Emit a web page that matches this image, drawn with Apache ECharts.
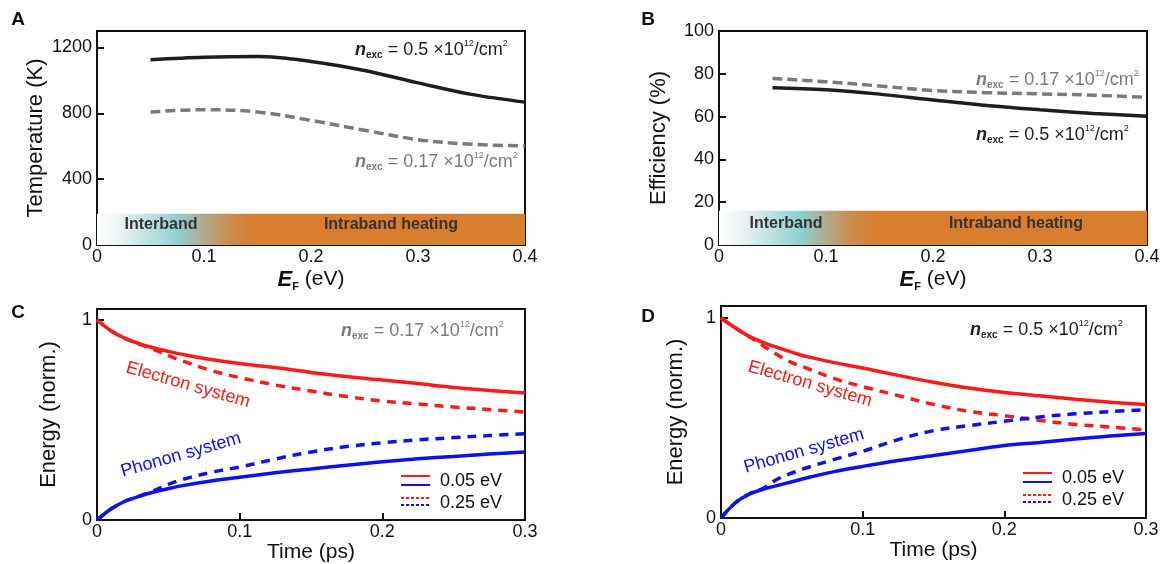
<!DOCTYPE html>
<html><head><meta charset="utf-8">
<script src="https://cdn.jsdelivr.net/npm/echarts@6/dist/echarts.min.js"></script>
<style>html,body{margin:0;padding:0;background:#fff}#c{width:1160px;height:564px}</style>
</head><body><div id="c"></div>
<script>
// ---------- data ----------
const EF = [0.05, 0.1, 0.15, 0.2, 0.25, 0.3, 0.35, 0.4];
const tempHigh = [1125, 1140, 1145, 1115, 1060, 985, 915, 868];   // n_exc = 0.5e12
const tempLow  = [808, 822, 808, 757, 697, 640, 612, 602];         // n_exc = 0.17e12
const effHigh  = [73.5, 72.5, 70.5, 67.8, 65.2, 63.2, 61.5, 60.2];
const effLow   = [77.8, 76.3, 74.3, 72.2, 71.2, 70.6, 70.0, 69.0];
const bandTempTop = 190;
const bandEffTop = 16;
const bandEnd = 0.4;

const TIME = [0, 0.01, 0.02, 0.03, 0.04, 0.05, 0.06, 0.08, 0.1, 0.125, 0.15, 0.175, 0.2, 0.225, 0.25, 0.275, 0.3];
// Panel C (n_exc = 0.17e12)
const elecC_005 = [1.0, 0.945, 0.907, 0.881, 0.86, 0.843, 0.828, 0.802, 0.782, 0.762, 0.738, 0.717, 0.70, 0.682, 0.663, 0.648, 0.635];
const elecC_025 = [1.0, 0.945, 0.907, 0.878, 0.852, 0.822, 0.795, 0.748, 0.712, 0.675, 0.645, 0.617, 0.595, 0.58, 0.565, 0.552, 0.54];
const phonC_005 = [0, 0.056, 0.095, 0.119, 0.14, 0.157, 0.172, 0.195, 0.214, 0.236, 0.255, 0.274, 0.291, 0.306, 0.318, 0.33, 0.34];
const phonC_025 = [0, 0.056, 0.095, 0.12, 0.147, 0.178, 0.203, 0.238, 0.265, 0.305, 0.34, 0.367, 0.386, 0.401, 0.412, 0.422, 0.432];
// Panel D (n_exc = 0.5e12)
const elecD_005 = [1.0, 0.951, 0.908, 0.877, 0.852, 0.829, 0.808, 0.777, 0.75, 0.713, 0.679, 0.65, 0.628, 0.611, 0.594, 0.579, 0.567];
const elecD_025 = [1.0, 0.951, 0.906, 0.86, 0.815, 0.777, 0.75, 0.697, 0.657, 0.612, 0.568, 0.533, 0.512, 0.488, 0.468, 0.455, 0.44];
const phonD_005 = [0, 0.075, 0.12, 0.144, 0.163, 0.181, 0.2, 0.232, 0.258, 0.287, 0.312, 0.338, 0.362, 0.378, 0.395, 0.41, 0.422];
const phonD_025 = [0, 0.075, 0.12, 0.15, 0.195, 0.225, 0.25, 0.293, 0.333, 0.392, 0.437, 0.462, 0.484, 0.505, 0.521, 0.532, 0.542];

// ---------- styling ----------
const FONT = 'Liberation Sans, Arial, Helvetica, sans-serif';
const INK = '#111';
const RED = '#ff1a1a', BLUE = '#1010ee', DARK = '#1e1e1e', GRAY = '#7a7a7a';

const chart = echarts.init(document.getElementById('c'), null, {renderer: 'canvas'});

const grids = [
  {left: 97, top: 31, width: 428, height: 214},
  {left: 719, top: 31, width: 428, height: 214},
  {left: 97, top: 309, width: 428, height: 211},
  {left: 721, top: 306, width: 425, height: 212}
].map(g => Object.assign(g, {show: true, borderColor: INK, borderWidth: 2, backgroundColor: 'transparent', outerBoundsMode: 'none', containLabel: false}));

const fmt = v => String(+(+v).toFixed(4));

function xAx(gi, max, interval, name, rich, gap) {
  return {
    type: 'value', gridIndex: gi, min: 0, max, interval,
    axisLine: {show: true, lineStyle: {color: INK, width: 2}},
    axisTick: {show: true, inside: true, length: 7, lineStyle: {color: INK, width: 2}},
    axisLabel: {color: INK, fontSize: 18, fontFamily: FONT, margin: 3, formatter: fmt},
    splitLine: {show: false},
    name, nameLocation: 'middle', nameGap: gap,
    nameTextStyle: {color: INK, fontSize: 21, fontFamily: FONT, rich}
  };
}
function yAx(gi, max, interval, name, gap) {
  return {
    type: 'value', gridIndex: gi, min: 0, max, interval,
    axisLine: {show: true, lineStyle: {color: INK, width: 2}},
    axisTick: {show: true, inside: true, length: 7, lineStyle: {color: INK, width: 2}},
    axisLabel: {color: INK, fontSize: 18, fontFamily: FONT, margin: 5, formatter: fmt, showMaxLabel: max % interval === 0},
    splitLine: {show: false},
    name, nameLocation: 'middle', nameGap: gap,
    nameTextStyle: {color: INK, fontSize: 22, fontFamily: FONT}
  };
}
const efRich = {
  b: {fontSize: 22, fontWeight: 'bold', fontStyle: 'italic', fontFamily: FONT, color: INK, lineHeight: 25},
  s: {fontSize: 11, fontWeight: 'bold', fontFamily: FONT, color: INK, verticalAlign: 'bottom', lineHeight: 12},
  t: {fontSize: 21, fontFamily: FONT, color: INK, lineHeight: 25}
};
const efName = '{b|E}{s|F}{t| (eV)}';

function line(ai, xs, ys, color, dash, z) {
  return {
    type: 'line', xAxisIndex: ai, yAxisIndex: ai,
    data: xs.map((x, i) => [x, ys[i]]),
    smooth: 0.35, showSymbol: false, symbol: 'none', silent: true, z: z || 3,
    lineStyle: {color, width: 3.5, type: dash || 'solid', cap: 'butt'}
  };
}
const grad = new echarts.graphic.LinearGradient(0, 0, 1, 0, [
  {offset: 0, color: '#ffffff'},
  {offset: 0.06, color: '#e6f2f2'},
  {offset: 0.19, color: '#8fcfcf'},
  {offset: 0.26, color: '#b6a583'},
  {offset: 0.31, color: '#cc8c4c'},
  {offset: 0.37, color: '#d97d2e'},
  {offset: 1, color: '#d97d2e'}
]);
function band(top) {
  return {silent: true, itemStyle: {color: grad, borderWidth: 0}, label: {show: false},
    data: [[{coord: [0, 0]}, {coord: [bandEnd, top]}]]};
}

const sA = line(0, EF, tempHigh, DARK); sA.markArea = band(bandTempTop);
const sB = line(1, EF, effHigh, DARK); sB.markArea = band(bandEffTop);
const DASH_AB = [10, 5];
const DASH_CD = [9, 7];

const series = [
  sA, line(0, EF, tempLow, GRAY, DASH_AB),
  sB, line(1, EF, effLow, GRAY, DASH_AB),
  line(2, TIME, elecC_025, RED, DASH_CD, 2), line(2, TIME, phonC_025, BLUE, DASH_CD, 2),
  line(2, TIME, elecC_005, RED, null, 3), line(2, TIME, phonC_005, BLUE, null, 3),
  line(3, TIME, elecD_025, RED, DASH_CD, 2), line(3, TIME, phonD_025, BLUE, DASH_CD, 2),
  line(3, TIME, elecD_005, RED, null, 3), line(3, TIME, phonD_005, BLUE, null, 3)
];

// ---------- annotations ----------
function nRich(color) {
  return {
    n: {fontSize: 18, fontWeight: 'bold', fontStyle: 'italic', fontFamily: FONT, fill: color, lineHeight: 21},
    s: {fontSize: 10, fontWeight: 'bold', fontFamily: FONT, fill: color, verticalAlign: 'bottom', lineHeight: 10},
    t: {fontSize: 18, fontFamily: FONT, fill: color, lineHeight: 21},
    p: {fontSize: 9, fontFamily: FONT, fill: color, verticalAlign: 'top', lineHeight: 9}
  };
}
function nLabel(x, y, val, color) {
  return {type: 'text', x, y, z: 10, silent: true,
    style: {text: '{n|n}{s|exc}{t| = ' + val + ' \u00d710}{p|12}{t|/cm}{p|2}', rich: nRich(color), align: 'left', verticalAlign: 'middle'}};
}
function plain(x, y, text, opt) {
  return {type: 'text', x, y, z: 10, silent: true, rotation: opt.rot || 0,
    style: Object.assign({text, fontFamily: FONT, align: opt.align || 'center', verticalAlign: 'middle'}, opt.style)};
}
function seg(x1, x2, y, color, dash) {
  return {type: 'line', z: 10, silent: true, shape: {x1, y1: y, x2, y2: y},
    style: {stroke: color, lineWidth: 2, lineDash: dash || null}};
}
const deg = Math.PI / 180;
const graphic = [
  plain(18, 20, 'A', {style: {fontSize: 19, fontWeight: 'bold', fill: INK}}),
  plain(648, 20, 'B', {style: {fontSize: 19, fontWeight: 'bold', fill: INK}}),
  plain(18, 313, 'C', {style: {fontSize: 19, fontWeight: 'bold', fill: INK}}),
  plain(648, 317, 'D', {style: {fontSize: 19, fontWeight: 'bold', fill: INK}}),
  nLabel(355, 50, '0.5', DARK),
  nLabel(355, 162, '0.17', GRAY),
  nLabel(976, 80, '0.17', GRAY),
  nLabel(976, 135, '0.5', DARK),
  nLabel(341, 331, '0.17', GRAY),
  nLabel(970, 330, '0.5', DARK),
  plain(161, 225, 'Interband', {style: {fontSize: 16, fontWeight: 'bold', fill: '#333'}}),
  plain(391, 225, 'Intraband heating', {style: {fontSize: 16, fontWeight: 'bold', fill: '#333'}}),
  plain(786, 224, 'Interband', {style: {fontSize: 16, fontWeight: 'bold', fill: '#333'}}),
  plain(1016, 224, 'Intraband heating', {style: {fontSize: 16, fontWeight: 'bold', fill: '#333'}}),
  plain(188, 385, 'Electron system', {rot: -16 * deg, style: {fontSize: 18, fill: RED}}),
  plain(181, 455, 'Phonon system', {rot: 16 * deg, style: {fontSize: 18, fill: BLUE}}),
  plain(810, 384, 'Electron system', {rot: -16 * deg, style: {fontSize: 18, fill: RED}}),
  plain(804, 451, 'Phonon system', {rot: 16 * deg, style: {fontSize: 18, fill: BLUE}}),
  // legend C
  seg(401, 430, 476, RED), seg(401, 430, 485, BLUE),
  seg(401, 430, 498, RED, [3, 2]), seg(401, 430, 505, BLUE, [3, 2]),
  plain(440, 481, '0.05 eV', {align: 'left', style: {fontSize: 18, fill: INK}}),
  plain(440, 503, '0.25 eV', {align: 'left', style: {fontSize: 18, fill: INK}}),
  // legend D
  seg(1023, 1052, 473, RED), seg(1023, 1052, 482, BLUE),
  seg(1023, 1052, 495, RED, [3, 2]), seg(1023, 1052, 502, BLUE, [3, 2]),
  plain(1062, 478, '0.05 eV', {align: 'left', style: {fontSize: 18, fill: INK}}),
  plain(1062, 500, '0.25 eV', {align: 'left', style: {fontSize: 18, fill: INK}})
];

chart.setOption({
  animation: false,
  backgroundColor: '#fff',
  grid: grids,
  xAxis: [
    xAx(0, 0.4, 0.1, efName, efRich, 22),
    xAx(1, 0.4, 0.1, efName, efRich, 22),
    xAx(2, 0.3, 0.1, 'Time (ps)', null, 22),
    xAx(3, 0.3, 0.1, 'Time (ps)', null, 22)
  ],
  yAxis: [
    yAx(0, 1300, 400, 'Temperature (K)', 50),
    yAx(1, 100, 20, 'Efficiency (%)', 49),
    yAx(2, 1.055, 1, 'Energy (norm.)', 37),
    yAx(3, 1.06, 1, 'Energy (norm.)', 34)
  ],
  series,
  graphic
});
</script>
</body></html>
